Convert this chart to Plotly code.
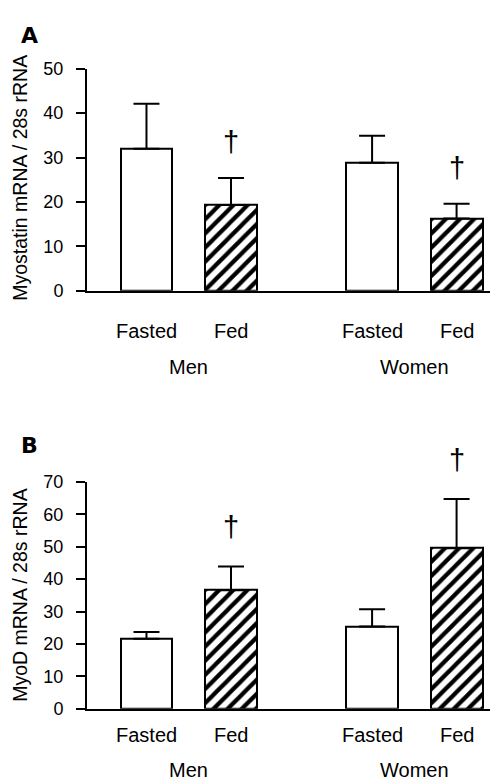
import plotly.graph_objects as go

# ---- data ----
conditions = ["Fasted", "Fed", "Fasted", "Fed"]
groups = ["Men", "Women"]
x_pos = [0.0, 1.0, 2.67, 3.67]          # bar slots on the x axis
group_pos = [0.5, 3.17]

myostatin_mean = [32.0, 19.3, 28.8, 16.3]
myostatin_err = [10.1, 6.1, 6.1, 3.3]
myostatin_sig = [False, True, False, True]

myod_mean = [21.6, 36.6, 25.4, 49.5]
myod_err = [2.1, 7.3, 5.3, 15.2]
myod_sig = [False, True, False, True]

y_ticks_a = [0, 10, 20, 30, 40, 50]
y_ticks_b = [0, 10, 20, 30, 40, 50, 60, 70]

W, H = 498, 781
FONT = "Liberation Sans, Arial, sans-serif"

def py(px):
    return 1 - px / H

def pxx(px):
    return px / W

fig = go.Figure()

patterns = ["", "/", "", "/"]

def add_panel(means, errs, xa, ya):
    fig.add_trace(go.Bar(
        x=x_pos, y=means, width=0.615,
        marker=dict(color="white", line=dict(color="black", width=2),
                    pattern=dict(shape=patterns, fgcolor="black", bgcolor="white",
                                 fgopacity=1, size=10, solidity=0.42)),
        error_y=dict(type="data", array=errs, arrayminus=[0]*len(errs),
                     symmetric=False, color="black", thickness=2, width=13),
        xaxis=xa, yaxis=ya, showlegend=False, hoverinfo="skip"))

add_panel(myostatin_mean, myostatin_err, "x", "y")
add_panel(myod_mean, myod_err, "x2", "y2")

xrange = [-0.704, 4.243]
common_x = dict(range=xrange, showline=True, linecolor="black", linewidth=2,
                showticklabels=False, ticks="", showgrid=False, zeroline=False,
                fixedrange=True)
common_y = dict(showline=True, linecolor="black", linewidth=2, ticks="outside",
                ticklen=9, tickwidth=2, tickcolor="black", showgrid=False,
                zeroline=False, tickfont=dict(family=FONT, size=18, color="black"),
                ticklabelstandoff=9, fixedrange=True)

fig.update_layout(
    width=W, height=H, margin=dict(l=0, r=0, t=0, b=0),
    paper_bgcolor="white", plot_bgcolor="white",
    bargap=0,
    xaxis=dict(domain=[pxx(79), pxx(497)], anchor="y", **common_x),
    yaxis=dict(domain=[py(280), py(52)], anchor="x", range=[0, 50],
               tickvals=y_ticks_a, **common_y),
    xaxis2=dict(domain=[pxx(79), pxx(497)], anchor="y2", **common_x),
    yaxis2=dict(domain=[py(709), py(476)], anchor="x2", range=[0, 70],
                tickvals=y_ticks_b, **common_y),
)

ann = []
lab_font = dict(family=FONT, size=20, color="black")
for xr, yr, cond_shift, grp_shift, means, errs, sig, dshift in [
    ("x", "y", -40, -76, myostatin_mean, myostatin_err, myostatin_sig, 36),
    ("x2", "y2", -26, -61, myod_mean, myod_err, myod_sig, 39),
]:
    for xp, c in zip(x_pos, conditions):
        ann.append(dict(x=xp, y=0, xref=xr, yref=yr, text=c, showarrow=False,
                        yshift=cond_shift, font=lab_font, yanchor="middle"))
    for gp, g in zip(group_pos, groups):
        ann.append(dict(x=gp, y=0, xref=xr, yref=yr, text=g, showarrow=False,
                        yshift=grp_shift, font=lab_font, yanchor="middle"))
    for xp, m, e, s in zip(x_pos, means, errs, sig):
        if s:
            ann.append(dict(x=xp, y=m + e, xref=xr, yref=yr, text="†",
                            showarrow=False, yshift=dshift, yanchor="middle",
                            font=dict(family=FONT, size=29, color="black")))

# y-axis titles
ann.append(dict(x=pxx(12), y=py(164), xref="paper", yref="paper",
                text="Myostatin mRNA / 28s rRNA", textangle=-90, showarrow=False,
                font=dict(family=FONT, size=19.5, color="black"),
                xanchor="center", yanchor="middle"))
ann.append(dict(x=pxx(12), y=py(593), xref="paper", yref="paper",
                text="MyoD mRNA / 28s rRNA", textangle=-90, showarrow=False,
                font=dict(family=FONT, size=19.5, color="black"),
                xanchor="center", yanchor="middle"))
# panel letters
ann.append(dict(x=pxx(21), y=py(18), xref="paper", yref="paper", text="<b>A</b>",
                showarrow=False, font=dict(family="DejaVu Sans, sans-serif", size=22, color="black"),
                xanchor="center", yanchor="middle"))
ann.append(dict(x=pxx(21), y=py(439), xref="paper", yref="paper", text="<b>B</b>",
                showarrow=False, font=dict(family="DejaVu Sans, sans-serif", size=22, color="black"),
                xanchor="center", yanchor="middle"))

fig.update_layout(annotations=ann)
fig.write_html("out.html")
